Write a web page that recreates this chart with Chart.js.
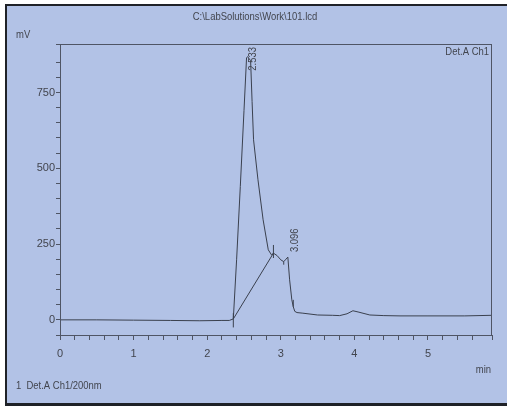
<!DOCTYPE html>
<html>
<head>
<meta charset="utf-8">
<script src="https://cdn.jsdelivr.net/npm/chart.js@4.4.1/dist/chart.umd.min.js"></script>
<style>
    html, body { margin: 0; padding: 0; background: #ffffff; overflow: hidden; }
    canvas { display: block; }
</style>
</head>
<body>
<canvas id="chromChart" width="507" height="407"></canvas>
<script>
// signal trace (min, mV)
const times = [0, 0.5, 1.0, 1.5, 1.9, 2.2, 2.3, 2.355, 2.40, 2.45, 2.50, 2.535, 2.55, 2.59, 2.61, 2.63, 2.69, 2.76, 2.83, 2.875, 2.90, 2.95, 3.00, 3.04, 3.07, 3.096, 3.12, 3.15, 3.17, 3.19, 3.22, 3.3, 3.5, 3.7, 3.8, 3.9, 3.98, 4.05, 4.21, 4.4, 4.62, 5.0, 5.5, 5.87];
const mvValues = [0, 0, -1, -2, -3, -2, -2, 3, 200, 440, 690, 865, 868, 855, 720, 594, 462, 330, 231, 214, 220, 212, 198, 192, 200, 207, 132, 66, 43, 28, 24, 22, 16, 15, 14, 20, 30, 26, 16, 14, 13, 13, 13, 15];

// baseline drawn under the peaks
const baseTimes = [2.355, 2.90];
const baseValues = [3, 220];

// integration marks: time, low, high
const markTimes = [2.355, 2.90, 3.04, 3.17];
const markLow = [-25, 204, 182, 43];
const markHigh = [22, 247, 192, 66];

// labelled peaks
const peakTimes = [2.533, 3.096];
const peakValues = [868, 207];
const peakLabels = ['2.533', '3.096'];

// axes
const xMin = 0, xMax = 5.87, xStep = 0.2;
const yMin = -50, yMax = 910, yStep = 50, yLabelStep = 250;

const FONT = '"Liberation Sans", Arial, sans-serif';
const TEXT = '#42454e';
const AXIS = '#4f5565';
const NARROW = 0.86;

const markData = [];
markTimes.forEach((t, i) => {
    markData.push({ x: t, y: markLow[i] });
    markData.push({ x: t, y: markHigh[i] });
    markData.push({ x: t, y: null });
});

// condensed text, like the instrument's narrow font
function narrowText(c, str, x, y, align) {
    c.save();
    c.translate(x, y);
    c.scale(NARROW, 1);
    c.textAlign = align;
    c.fillText(str, 0, 0);
    c.restore();
}

const framePlugin = {
    id: 'frame',
    beforeDraw(chart) {
        const c = chart.ctx;
        c.save();
        c.fillStyle = '#ffffff';
        c.fillRect(0, 0, chart.width, chart.height);
        c.fillStyle = '#b2c2e6';
        c.fillRect(6, 5, chart.width - 6, 399);
        c.fillStyle = '#1f2228';
        c.fillRect(5, 4, chart.width - 5, 2);
        c.fillRect(5, 4, 2, 402);
        c.fillRect(5, 403, chart.width - 5, 3);
        c.restore();
    },
    afterDatasetsDraw(chart) {
        const c = chart.ctx;
        const a = chart.chartArea;
        const xs = chart.scales.x, ys = chart.scales.y;
        c.save();
        c.strokeStyle = AXIS;
        c.lineWidth = 1;
        c.strokeRect(a.left + 0.5, a.top + 0.5, a.right - a.left - 1, a.bottom - a.top);

        c.fillStyle = TEXT;
        c.font = '11px ' + FONT;
        c.textBaseline = 'middle';
        narrowText(c, 'C:\\LabSolutions\\Work\\101.lcd', 255, 17, 'center');
        narrowText(c, 'mV', 16, 35, 'left');
        narrowText(c, '1  Det.A Ch1/200nm', 16, 386, 'left');
        narrowText(c, 'Det.A Ch1', a.right - 3, 52, 'right');
        narrowText(c, 'min', a.right - 1, 370, 'right');

        // peak retention time labels, read bottom to top
        peakTimes.forEach((t, i) => {
            const px = xs.getPixelForValue(t) + 7;
            const w = c.measureText(peakLabels[i]).width * NARROW;
            let bottom = ys.getPixelForValue(peakValues[i]) - 5;
            bottom = Math.max(bottom, a.top + 3 + w);
            c.save();
            c.translate(px, bottom);
            c.rotate(-Math.PI / 2);
            narrowText(c, peakLabels[i], 0, 0, 'left');
            c.restore();
        });
        c.restore();
    }
};

const ctx = document.getElementById('chromChart').getContext('2d');
const chromChart = new Chart(ctx, {
    type: 'line',
    data: {
        datasets: [{
            data: times.map((t, i) => ({ x: t, y: mvValues[i] })),
            borderColor: '#3a404e',
            borderWidth: 1,
            pointRadius: 0,
            tension: 0
        }, {
            data: baseTimes.map((t, i) => ({ x: t, y: baseValues[i] })),
            borderColor: '#3a404e',
            borderWidth: 1,
            pointRadius: 0
        }, {
            data: markData,
            borderColor: '#3a404e',
            borderWidth: 1,
            pointRadius: 0,
            spanGaps: false
        }]
    },
    options: {
        responsive: false,
        animation: false,
        devicePixelRatio: 1,
        layout: { padding: { left: 0, top: 44, right: 15, bottom: 42 } },
        plugins: { legend: { display: false }, tooltip: { enabled: false } },
        scales: {
            x: {
                type: 'linear',
                min: xMin,
                max: xMax,
                afterFit(scale) { scale.height = 30; },
                border: { color: AXIS },
                grid: { drawOnChartArea: false, drawTicks: true, tickLength: 5, tickColor: AXIS },
                ticks: {
                    stepSize: xStep,
                    autoSkip: false,
                    maxRotation: 0,
                    padding: 7,
                    color: TEXT,
                    font: { family: FONT, size: 11 },
                    callback: (v) => Math.abs(v - Math.round(v)) < 1e-6 ? String(Math.round(v)) : ''
                }
            },
            y: {
                type: 'linear',
                min: yMin,
                max: yMax,
                afterFit(scale) { scale.width = 60; },
                border: { color: AXIS },
                grid: { drawOnChartArea: false, drawTicks: true, tickLength: 4, tickColor: AXIS },
                ticks: {
                    stepSize: yStep,
                    autoSkip: false,
                    padding: 1,
                    color: TEXT,
                    font: { family: FONT, size: 11 },
                    callback: (v) => (v >= 0 && v % yLabelStep === 0) ? String(v) : ''
                }
            }
        }
    },
    plugins: [framePlugin]
});
</script>
</body>
</html>
